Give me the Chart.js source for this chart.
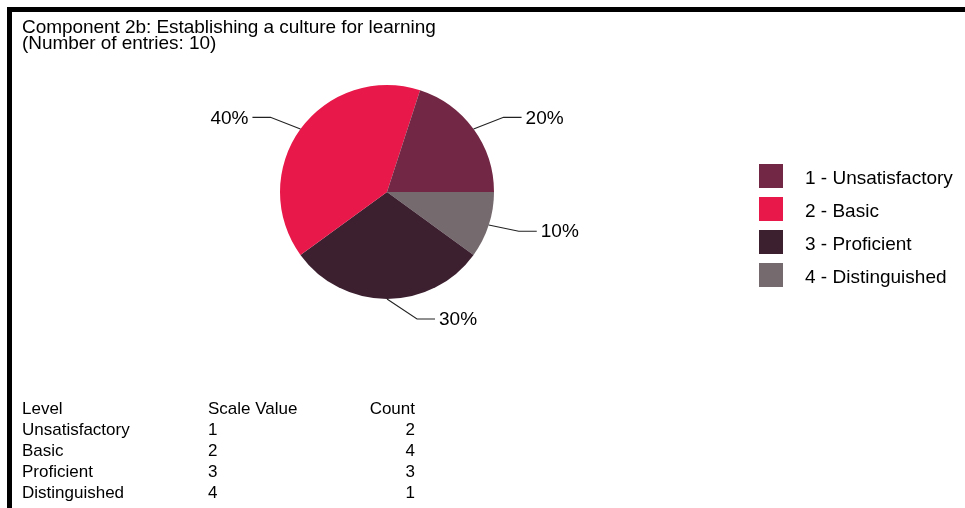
<!DOCTYPE html>
<html>
<head>
<meta charset="utf-8">
<script src="https://cdn.jsdelivr.net/npm/chart.js@4.4.1/dist/chart.umd.min.js"></script>
<style>
    body { margin: 0; background: #fff; font-family: "Liberation Sans", Arial, sans-serif; color: #000; }
    #pagina { position: relative; width: 965px; height: 508px; overflow: hidden; }
    #marco { position: absolute; left: 7px; top: 7px; right: -20px; bottom: -20px; border-top: 5px solid #000; border-left: 5px solid #000; }
    #titulo { position: absolute; left: 22px; top: 19px; font-size: 19px; line-height: 16px; white-space: nowrap; letter-spacing: -0.05px; }
    #contenedor { position: absolute; left: 0; top: 0; width: 965px; height: 508px; }
    #leyenda { position: absolute; left: 759px; top: 159px; }
    .item { height: 33px; display: flex; align-items: center; font-size: 19px; white-space: nowrap; }
    .item span { position: relative; top: 2px; }
    .caja { width: 24px; height: 24px; margin-right: 22px; }
    #tabla { position: absolute; left: 22px; top: 398px; font-size: 17px; line-height: 21px; }
    .fila { position: relative; height: 21px; width: 400px; white-space: nowrap; }
    .fila .c1 { position: absolute; left: 0; }
    .fila .c2 { position: absolute; left: 186px; }
    .fila .c3 { position: absolute; right: 7px; }
</style>
</head>
<body>
<div id="pagina">
    <div id="marco"></div>
    <div id="contenedor"><canvas id="grafico"></canvas></div>
    <div id="titulo">Component 2b: Establishing a culture for learning<br>(Number of entries: 10)</div>
    <div id="leyenda"></div>
    <div id="tabla"></div>
</div>
<script>
// datos del grafico
const niveles = ['Unsatisfactory', 'Basic', 'Proficient', 'Distinguished'];
const valoresEscala = [1, 2, 3, 4];
const conteos = [2, 4, 3, 1];
const encabezados = ['Level', 'Scale Value', 'Count'];

const colores = ['#722844', '#E8194A', '#3C2030', '#756A6E'];

document.addEventListener('DOMContentLoaded', function() {
    const canvas = document.getElementById('grafico');
    const ctxGrafico = canvas.getContext('2d');

    // etiquetas de porcentaje con linea guia
    const etiquetasPorcentaje = {
        id: 'etiquetasPorcentaje',
        afterDatasetsDraw(chart) {
            const ctx = chart.ctx;
            const meta = chart.getDatasetMeta(0);
            const datos = chart.data.datasets[0].data;
            const total = datos.reduce((a, b) => a + b, 0);
            ctx.save();
            ctx.font = '19px "Liberation Sans", Arial, sans-serif';
            ctx.fillStyle = '#000';
            ctx.strokeStyle = '#222';
            ctx.lineWidth = 1.1;
            meta.data.forEach((arco, i) => {
                const { x, y, startAngle, endAngle, outerRadius } =
                    arco.getProps(['x', 'y', 'startAngle', 'endAngle', 'outerRadius'], true);
                const medio = (startAngle + endAngle) / 2;
                const cos = Math.cos(medio), sin = Math.sin(medio);
                const lado = cos > -0.01 ? 1 : -1;
                const x0 = x + cos * outerRadius, y0 = y + sin * outerRadius;
                const x1 = x0 + 30 * lado, y1 = y0 + 20 * sin;
                const x2 = x1 + 18 * lado;
                ctx.beginPath();
                ctx.moveTo(x0, y0);
                ctx.lineTo(x1, y1);
                ctx.lineTo(x2, y1);
                ctx.stroke();
                ctx.textAlign = lado > 0 ? 'left' : 'right';
                ctx.textBaseline = 'middle';
                ctx.fillText(Math.round(datos[i] / total * 100) + '%', x2 + 4 * lado, y1 + 1);
            });
            ctx.restore();
        }
    };

    // el grafico va en sentido antihorario, por eso se invierte el orden
    window.graficoNiveles = new Chart(ctxGrafico, {
        type: 'pie',
        data: {
            labels: niveles.map((n, i) => valoresEscala[i] + ' - ' + n).reverse(),
            datasets: [{
                data: conteos.slice().reverse(),
                backgroundColor: colores.slice().reverse(),
                borderWidth: 0,
                hoverOffset: 0
            }]
        },
        options: {
            responsive: true,
            maintainAspectRatio: false,
            animation: false,
            events: [],
            rotation: 90,
            layout: { padding: { left: 280, top: 85, right: 471, bottom: 209 } },
            plugins: {
                legend: { display: false },
                tooltip: { enabled: false },
                title: { display: false }
            }
        },
        plugins: [etiquetasPorcentaje]
    });

    // leyenda
    const leyenda = document.getElementById('leyenda');
    niveles.forEach((n, i) => {
        const item = document.createElement('div');
        item.className = 'item';
        item.innerHTML = '<div class="caja" style="background:' + colores[i] + '"></div><span>' +
            valoresEscala[i] + ' - ' + n + '</span>';
        leyenda.appendChild(item);
    });

    // tabla
    const tabla = document.getElementById('tabla');
    const filas = [encabezados].concat(niveles.map((n, i) => [n, valoresEscala[i], conteos[i]]));
    filas.forEach(f => {
        const fila = document.createElement('div');
        fila.className = 'fila';
        fila.innerHTML = '<span class="c1">' + f[0] + '</span><span class="c2">' + f[1] +
            '</span><span class="c3">' + f[2] + '</span>';
        tabla.appendChild(fila);
    });
});
</script>
</body>
</html>
